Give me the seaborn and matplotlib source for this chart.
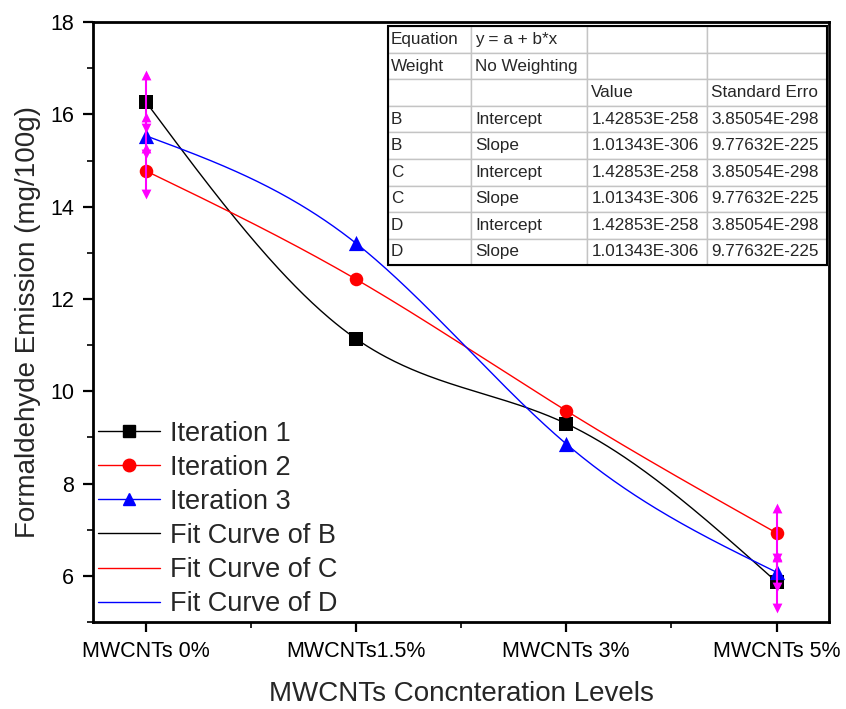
import numpy as np
import matplotlib
matplotlib.use('Agg')
import matplotlib.pyplot as plt
from matplotlib.lines import Line2D
from matplotlib.patches import Rectangle
from matplotlib.ticker import MultipleLocator
import seaborn as sns

# data
levels = ['MWCNTs 0%', 'MWCNTs1.5%', 'MWCNTs 3%', 'MWCNTs 5%']
iter1 = [16.28, 11.14, 9.30, 5.87]
iter2 = [14.78, 12.43, 9.58, 6.93]
iter3 = [15.54, 13.21, 8.86, 6.08]
# error bars only drawn at first and last level
err1 = [0.58, 0, 0, 0.56]
err2 = [0.50, 0, 0, 0.54]
err3 = [0.40, 0, 0, 0.32]

series_names = ['Iteration 1', 'Iteration 2', 'Iteration 3']
fit_names = ['Fit Curve of B', 'Fit Curve of C', 'Fit Curve of D']

table_rows = [
    ['Equation', 'y = a + b*x', '', ''],
    ['Weight', 'No Weighting', '', ''],
    ['', '', 'Value', 'Standard Erro'],
    ['B', 'Intercept', '1.42853E-258', '3.85054E-298'],
    ['B', 'Slope', '1.01343E-306', '9.77632E-225'],
    ['C', 'Intercept', '1.42853E-258', '3.85054E-298'],
    ['C', 'Slope', '1.01343E-306', '9.77632E-225'],
    ['D', 'Intercept', '1.42853E-258', '3.85054E-298'],
    ['D', 'Slope', '1.01343E-306', '9.77632E-225'],
]


def natural_spline(y, n=300):
    # natural cubic spline through equally spaced points
    y = np.asarray(y, float)
    k = len(y)
    A = np.zeros((k, k))
    rhs = np.zeros(k)
    A[0, 0] = A[-1, -1] = 1
    for i in range(1, k - 1):
        A[i, i - 1:i + 2] = [1, 4, 1]
        rhs[i] = 6 * (y[i - 1] - 2 * y[i] + y[i + 1])
    M = np.linalg.solve(A, rhs)
    xs = np.linspace(0, k - 1, n)
    i = np.clip(np.floor(xs).astype(int), 0, k - 2)
    t = xs - i
    ys = (M[i] * (1 - t) ** 3 / 6 + M[i + 1] * t ** 3 / 6
          + (y[i] - M[i] / 6) * (1 - t) + (y[i + 1] - M[i + 1] / 6) * t)
    return xs, ys


sns.set_style('ticks')
plt.rcParams['font.family'] = ['Liberation Sans', 'DejaVu Sans']

fig = plt.figure(figsize=(8.46, 7.09), dpi=100)
ax = fig.add_axes([0.110, 0.1227, 0.870, 0.846])

x = np.arange(len(levels))
colors = ['black', 'red', 'blue']
markers = ['s', 'o', '^']
sizes = [95, 95, 120]
all_y = [iter1, iter2, iter3]
all_err = [err1, err2, err3]

for yv, c in zip(all_y, colors):
    xs, ys = natural_spline(yv)
    sns.lineplot(x=xs, y=ys, color=c, lw=1, ax=ax, legend=False, zorder=2)

for yv, c, m, s in zip(all_y, colors, markers, sizes):
    sns.scatterplot(x=x, y=yv, marker=m, color=c, s=s, edgecolor=c,
                    linewidth=0, ax=ax, legend=False, zorder=3)

for yv, ev in zip(all_y, all_err):
    yv = np.array(yv)
    ev = np.array(ev)
    keep = ev > 0
    ax.errorbar(x[keep], yv[keep], yerr=ev[keep], fmt='none', ecolor='magenta',
                elinewidth=1.5, capsize=0, zorder=4)
    ax.scatter(x[keep], yv[keep] + ev[keep], marker='^', color='magenta', s=50,
               linewidths=0, zorder=4)
    ax.scatter(x[keep], yv[keep] - ev[keep], marker='v', color='magenta', s=50,
               linewidths=0, zorder=4)

ax.set_xlim(-0.25, 3.25)
ax.set_ylim(5, 18)
ax.set_xticks(x)
ax.set_xticklabels(levels)
ax.xaxis.set_minor_locator(MultipleLocator(0.5))
ax.yaxis.set_major_locator(MultipleLocator(2))
ax.yaxis.set_minor_locator(MultipleLocator(1))
ax.tick_params(which='major', direction='out', length=7.5, width=1.6,
               labelsize=15.5, pad=6, colors='black')
ax.tick_params(which='minor', direction='out', length=4.5, width=1.4)
for sp in ax.spines.values():
    sp.set_visible(True)
    sp.set_linewidth(2)
    sp.set_color('black')

ax.set_xlabel('MWCNTs Concnteration Levels', fontsize=20, labelpad=14)
ax.set_ylabel('Formaldehyde Emission (mg/100g)', fontsize=20, labelpad=7)

handles = [Line2D([0], [0], color=c, marker=m, ms=9, lw=1)
           for c, m in zip(colors, markers)]
handles += [Line2D([0], [0], color=c, lw=1) for c in colors]
ax.legend(handles, series_names + fit_names, loc='lower left',
          bbox_to_anchor=(-0.008, -0.01), frameon=False, fontsize=19.5,
          handlelength=2.3, handletextpad=0.37, labelspacing=0.3,
          borderaxespad=0)

tbl_box = [0.401, 0.595, 0.596, 0.398]
tbl = ax.table(cellText=table_rows, colWidths=[0.189, 0.264, 0.273, 0.273],
               cellLoc='left', bbox=tbl_box, zorder=6)
tbl.auto_set_font_size(False)
tbl.set_fontsize(12.3)
for cell in tbl.get_celld().values():
    cell.set_edgecolor('#c4c4c4')
    cell.set_linewidth(1)
    cell.set_facecolor('white')
    cell.PAD = 0.035
ax.add_patch(Rectangle((tbl_box[0], tbl_box[1]), tbl_box[2], tbl_box[3],
                       transform=ax.transAxes, fill=False, edgecolor='black',
                       lw=1.5, zorder=7))

fig.savefig('out.png', dpi=100)
